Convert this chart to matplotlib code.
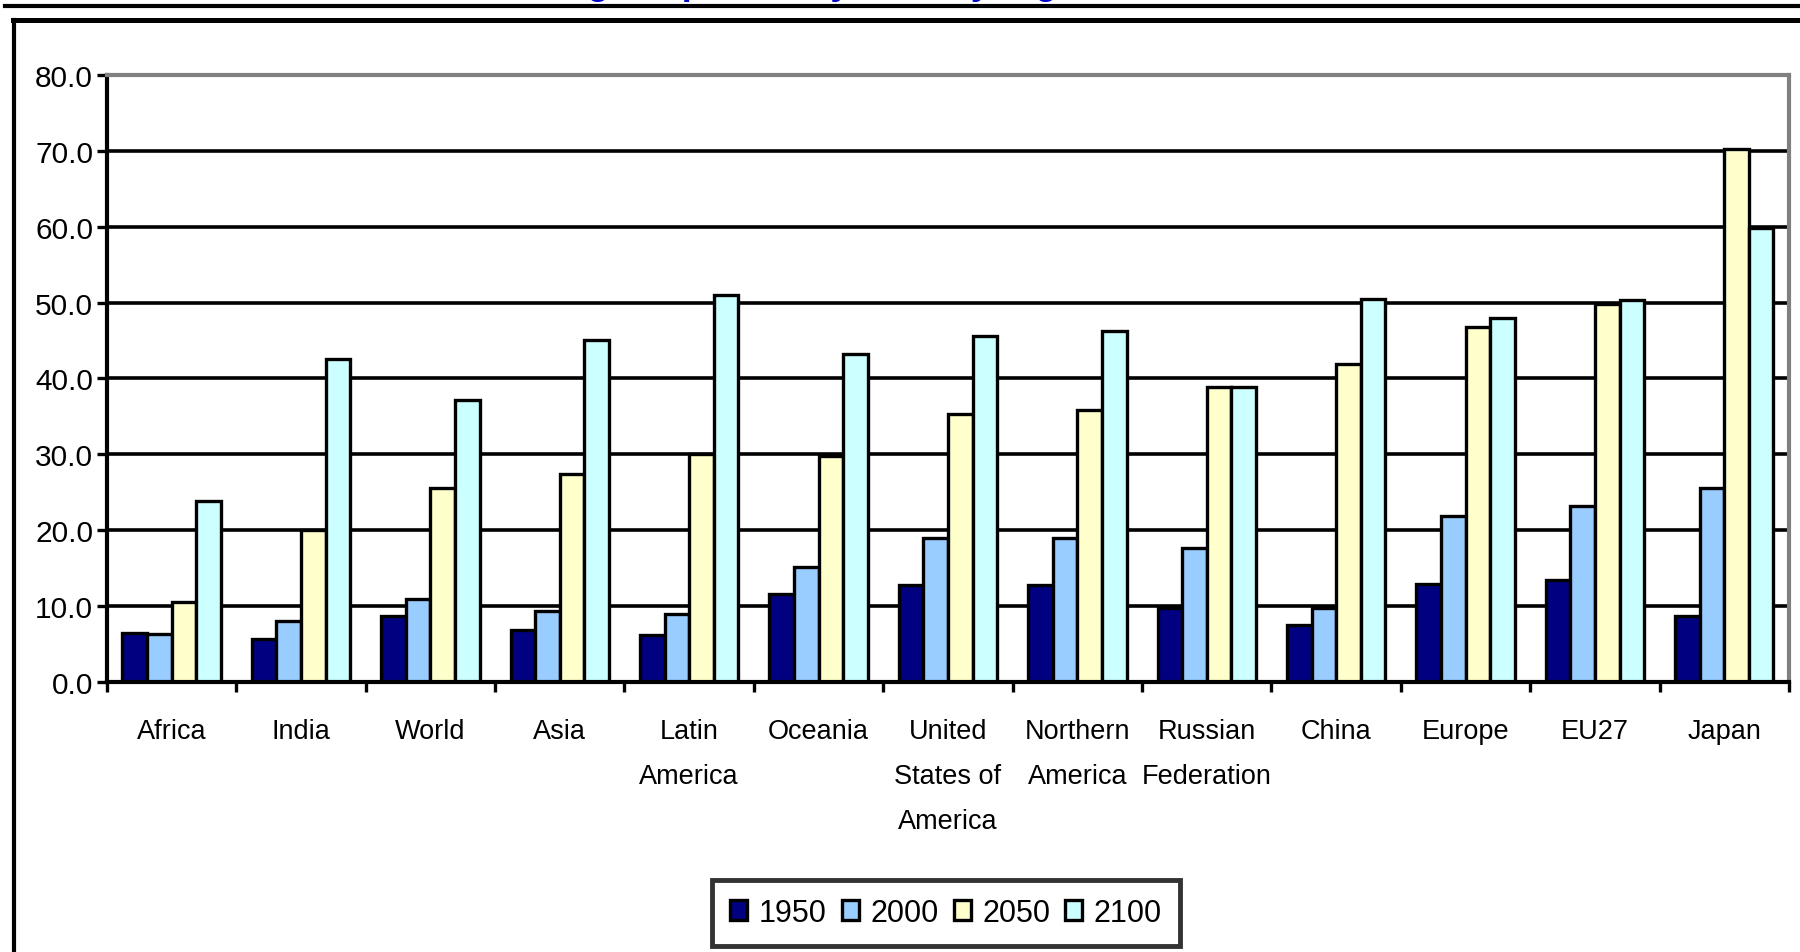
import matplotlib
matplotlib.use("Agg")
import matplotlib.pyplot as plt
import numpy as np
from matplotlib.patches import Patch
from matplotlib.lines import Line2D

plt.rcParams['font.family'] = ['Liberation Sans', 'DejaVu Sans']

regions = ["Africa", "India", "World", "Asia", "Latin\nAmerica", "Oceania",
           "United\nStates of\nAmerica", "Northern\nAmerica", "Russian\nFederation",
           "China", "Europe", "EU27", "Japan"]
years = ["1950", "2000", "2050", "2100"]

# old-age dependency ratio per region
v1950 = [6.4, 5.7, 8.7, 6.8, 6.2, 11.6, 12.8, 12.8, 9.8, 7.5, 12.9, 13.5, 8.7]
v2000 = [6.3, 8.1, 11.0, 9.3, 9.0, 15.2, 19.0, 19.0, 17.7, 9.8, 21.9, 23.2, 25.6]
v2050 = [10.6, 20.0, 25.6, 27.4, 30.0, 29.8, 35.3, 35.9, 38.9, 41.9, 46.8, 49.8, 70.2]
v2100 = [23.8, 42.6, 37.2, 45.1, 51.0, 43.2, 45.6, 46.2, 38.9, 50.5, 48.0, 50.4, 59.8]

colors = ["#000080", "#99CCFF", "#FFFFCC", "#CCFFFF"]
yticks = [0, 10, 20, 30, 40, 50, 60, 70, 80]

fig = plt.figure(figsize=(18, 9.53), dpi=100)
ax = fig.add_axes([0.0594, 0.2833, 0.9345, 0.637])

x = np.arange(len(regions))
w = 0.19
series = [v1950, v2000, v2050, v2100]
for k, vals in enumerate(series):
    ax.bar(x + (k - 1.5) * w, vals, width=w, color=colors[k],
           edgecolor="black", linewidth=2.4, zorder=2)

# horizontal gridlines (top one is the gray frame)
for t in yticks[1:-1]:
    ax.axhline(t, color="black", linewidth=2.6, zorder=0)

ax.set_xlim(-0.5, len(regions) - 0.5)
ax.set_ylim(0, 80)
ax.set_yticks(yticks)
ax.set_yticklabels([f"{t:.1f}" for t in yticks], fontsize=21.5)

# ticks on category boundaries, labels at centers
ax.set_xticks(np.arange(len(regions) + 1) - 0.5)
ax.set_xticklabels([])
ax.set_xticks(x, minor=True)
ax.set_xticklabels(regions, minor=True, fontsize=19.5, linespacing=1.94, va="top")
ax.tick_params(axis="x", which="minor", length=0, pad=26)
ax.tick_params(axis="x", which="major", direction="out", length=7, width=2.4)
ax.tick_params(axis="y", direction="out", length=7, width=2.4, pad=3)

for s in ["left", "bottom"]:
    ax.spines[s].set_color("black")
    ax.spines[s].set_linewidth(3)
for s in ["top", "right"]:
    ax.spines[s].set_color("#808080")
    ax.spines[s].set_linewidth(3)

handles = [Patch(facecolor=c, edgecolor="black", linewidth=2.4) for c in colors]
leg = fig.legend(handles, years, loc="center", bbox_to_anchor=(0.5256, 0.041),
                 ncol=4, fontsize=22, frameon=True, fancybox=False,
                 handlelength=0.55, handleheight=0.6, handletextpad=0.38,
                 columnspacing=0.5, borderpad=0.6, borderaxespad=0)
leg.get_frame().set_edgecolor("black")
leg.get_frame().set_linewidth(3.5)

# outer frame lines
fig.add_artist(Line2D([0.003, 1.0], [0.9925, 0.9925], color="black", linewidth=3.0))
fig.add_artist(Line2D([0.007, 1.0], [0.978, 0.978], color="black", linewidth=3.6))
fig.add_artist(Line2D([0.0075, 0.0075], [0.0, 0.978], color="black", linewidth=3.0))

# title sits above the canvas, only its descenders reach the top edge
fig.text(0.5, 1.0058, "Old-age dependency ratio by region, 1950-2100",
         ha="center", va="baseline", fontsize=26, color="#0000CC", fontweight="bold")

fig.savefig("out.png", dpi=100)
